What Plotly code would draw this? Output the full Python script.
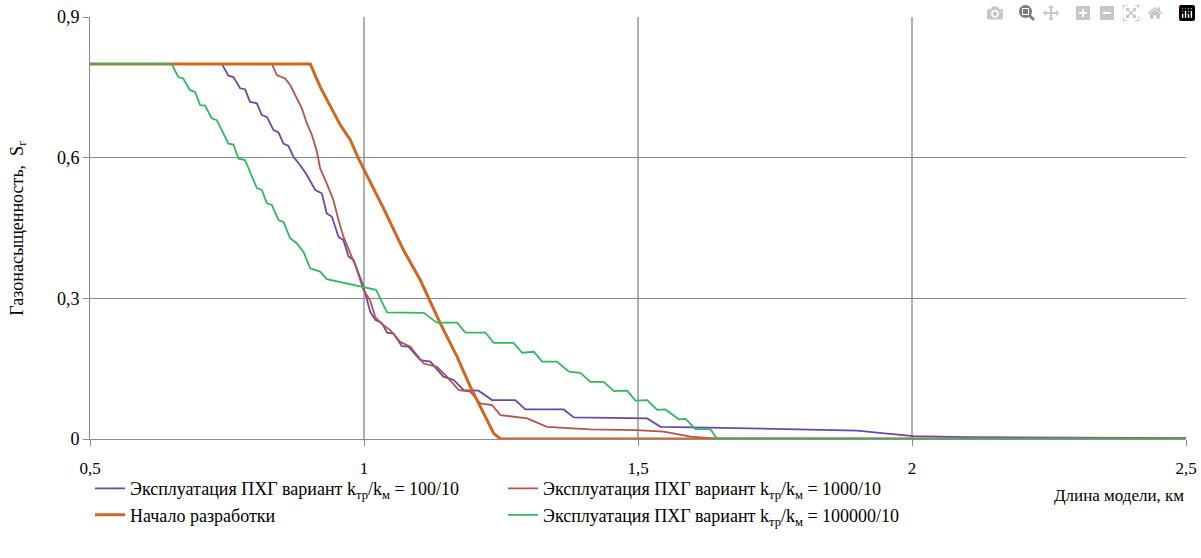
import plotly.graph_objects as go

# Эксплуатация ПХГ вариант kтр/kм = 100/10
x_p = [0.5, 0.7405, 0.7526, 0.7617, 0.774, 0.783, 0.792, 0.8045, 0.8136, 0.8227, 0.8348, 0.8439, 0.853, 0.862,
       0.8713, 0.8836, 0.8958, 0.911, 0.923, 0.932, 0.9415, 0.9535, 0.9625, 0.9718, 0.981, 0.999, 1.0114, 1.0205,
       1.0328, 1.042, 1.054, 1.069, 1.081, 1.103, 1.121, 1.145, 1.1636, 1.182, 1.209, 1.2336, 1.276, 1.2945,
       1.3645, 1.3827, 1.5168, 1.541, 1.6, 1.75, 1.9, 1.95, 2.003, 2.1, 2.3, 2.5]
y_p = [0.8, 0.8, 0.775, 0.772, 0.748, 0.746, 0.719, 0.716, 0.691, 0.687, 0.659, 0.654, 0.630, 0.625,
       0.602, 0.584, 0.563, 0.531, 0.524, 0.481, 0.474, 0.431, 0.424, 0.389, 0.382, 0.325, 0.271, 0.254,
       0.247, 0.227, 0.225, 0.198, 0.197, 0.168, 0.165, 0.133, 0.126, 0.104, 0.103, 0.083, 0.083, 0.063,
       0.063, 0.046, 0.044, 0.026, 0.025, 0.022, 0.018, 0.012, 0.006, 0.004, 0.003, 0.002]

# Эксплуатация ПХГ вариант kтр/kм = 1000/10
x_r = [0.5, 0.8318, 0.841, 0.856, 0.8653, 0.8775, 0.8867, 0.8958, 0.905, 0.914, 0.920, 0.932, 0.944, 0.9535,
       0.9627, 0.975, 0.984, 0.999, 1.011, 1.0205, 1.033, 1.048, 1.066, 1.0845, 1.109, 1.133, 1.1515, 1.173,
       1.194, 1.212, 1.2336, 1.249, 1.2976, 1.334, 1.413, 1.498, 1.547, 1.596, 1.638, 2.0, 2.5]
y_r = [0.8, 0.8, 0.776, 0.769, 0.755, 0.726, 0.705, 0.673, 0.648, 0.613, 0.577, 0.545, 0.51, 0.467,
       0.431, 0.396, 0.371, 0.318, 0.296, 0.26, 0.245, 0.232, 0.207, 0.197, 0.161, 0.154, 0.133, 0.104,
       0.101, 0.076, 0.0725, 0.051, 0.044, 0.026, 0.0205, 0.019, 0.0156, 0.005, 0.0015, 0.001, 0.001]

# Эксплуатация ПХГ вариант kтр/kм = 100000/10
x_g = [0.5, 0.649, 0.661, 0.670, 0.6826, 0.6918, 0.7009, 0.710, 0.722, 0.7314, 0.742, 0.7526, 0.7617, 0.771,
       0.783, 0.794, 0.8045, 0.8136, 0.8227, 0.8318, 0.844, 0.853, 0.865, 0.8775, 0.8896, 0.9018, 0.920, 0.932,
       0.9627, 0.987, 1.022, 1.042, 1.109, 1.133, 1.170, 1.185, 1.2215, 1.2366, 1.273, 1.2885, 1.31, 1.325,
       1.352, 1.374, 1.395, 1.413, 1.4375, 1.456, 1.480, 1.4954, 1.5168, 1.535, 1.550, 1.5745, 1.5868, 1.605,
       1.632, 1.6447, 2.5]
y_g = [0.8, 0.8, 0.772, 0.769, 0.744, 0.740, 0.712, 0.711, 0.684, 0.680, 0.655, 0.630, 0.628, 0.598,
       0.595, 0.565, 0.535, 0.531, 0.5026, 0.499, 0.467, 0.463, 0.429, 0.417, 0.399, 0.364, 0.357, 0.341,
       0.333, 0.327, 0.318, 0.270, 0.269, 0.248, 0.248, 0.227, 0.227, 0.205, 0.205, 0.184, 0.186, 0.165,
       0.165, 0.1435, 0.141, 0.122, 0.122, 0.102, 0.103, 0.082, 0.083, 0.062, 0.063, 0.042, 0.043, 0.021,
       0.021, 0.0, 0.0]

# Начало разработки
x_o = [0.5, 0.902, 0.92, 0.938, 0.9566, 0.975, 0.99, 1.011, 1.0357, 1.072, 1.1027, 1.139, 1.17, 1.194,
       1.218, 1.2366, 1.249, 2.5]
y_o = [0.8, 0.8, 0.751, 0.712, 0.670, 0.638, 0.598, 0.549, 0.492, 0.403, 0.339, 0.247, 0.175, 0.1115,
       0.055, 0.012, 0.0, 0.0]

x_ticks = [0.5, 1, 1.5, 2, 2.5]
x_tick_labels = ["0,5", "1", "1,5", "2", "2,5"]
y_ticks = [0, 0.3, 0.6, 0.9]
y_tick_labels = ["0", "0,3", "0,6", "0,9"]

names = {
    "p": "Эксплуатация ПХГ вариант k<sub>тр</sub>/k<sub>м</sub> = 100/10",
    "r": "Эксплуатация ПХГ вариант k<sub>тр</sub>/k<sub>м</sub> = 1000/10",
    "o": "Начало разработки",
    "g": "Эксплуатация ПХГ вариант k<sub>тр</sub>/k<sub>м</sub> = 100000/10",
}
colors = {"p": "#6A47AA", "r": "#B5544F", "o": "#D2661E", "g": "#2FBA5E"}

FONT = "'Times New Roman', 'Liberation Serif', 'DejaVu Serif', serif"

fig = go.Figure()
fig.add_trace(go.Scatter(x=x_p, y=y_p, mode="lines", name=names["p"], legendrank=1,
                         line=dict(color=colors["p"], width=1.8)))
fig.add_trace(go.Scatter(x=x_r, y=y_r, mode="lines", name=names["r"], legendrank=2,
                         line=dict(color=colors["r"], width=1.8)))
fig.add_trace(go.Scatter(x=x_o, y=y_o, mode="lines", name=names["o"], legendrank=3,
                         line=dict(color=colors["o"], width=3)))
fig.add_trace(go.Scatter(x=x_g, y=y_g, mode="lines", name=names["g"], legendrank=4,
                         line=dict(color=colors["g"], width=1.8)))

fig.update_layout(
    width=1201, height=558,
    margin=dict(l=90, r=15, t=17, b=119, autoexpand=False),
    paper_bgcolor="white", plot_bgcolor="white",
    font=dict(family=FONT, size=16, color="#000000"),
    showlegend=True,
    legend=dict(orientation="h", x=0.0, xanchor="left", y=-0.074, yanchor="top",
                bgcolor="rgba(0,0,0,0)",
                entrywidth=368, entrywidthmode="pixels", font=dict(family=FONT, size=18),
                traceorder="normal", itemwidth=30),
    xaxis=dict(range=[0.5, 2.5], tickvals=x_ticks, ticktext=x_tick_labels,
               showgrid=True, gridcolor="#B0B0B0", gridwidth=1.5,
               showline=True, linecolor="#8C8C8C", linewidth=1,
               ticks="outside", ticklen=6, tickcolor="#8C8C8C", ticklabeloverflow="allow",
               zeroline=False, tickfont=dict(family=FONT, size=17), ticklabelstandoff=8),
    yaxis=dict(range=[0, 0.9], tickvals=y_ticks, ticktext=y_tick_labels,
               showgrid=True, gridcolor="#8A8A8A", gridwidth=1, ticklabeloverflow="allow",
               showline=True, linecolor="#8C8C8C", linewidth=1,
               ticks="outside", ticklen=6, tickcolor="#8C8C8C",
               zeroline=False, tickfont=dict(family=FONT, size=18)),
    annotations=[
        dict(text="Газонасыщенность,  S<sub>г</sub>", textangle=-90, xref="paper", yref="paper",
             x=-0.066, y=0.5, xanchor="center", yanchor="middle", showarrow=False,
             font=dict(family=FONT, size=18)),
        dict(text="Длина модели, км", xref="paper", yref="paper",
             x=1.0, y=-0.135, xanchor="right", yanchor="middle", showarrow=False,
             font=dict(family=FONT, size=17)),
    ],
)

fig.write_html("out.html",
               post_script="document.body.style.margin='0';document.body.style.overflow='hidden';")
